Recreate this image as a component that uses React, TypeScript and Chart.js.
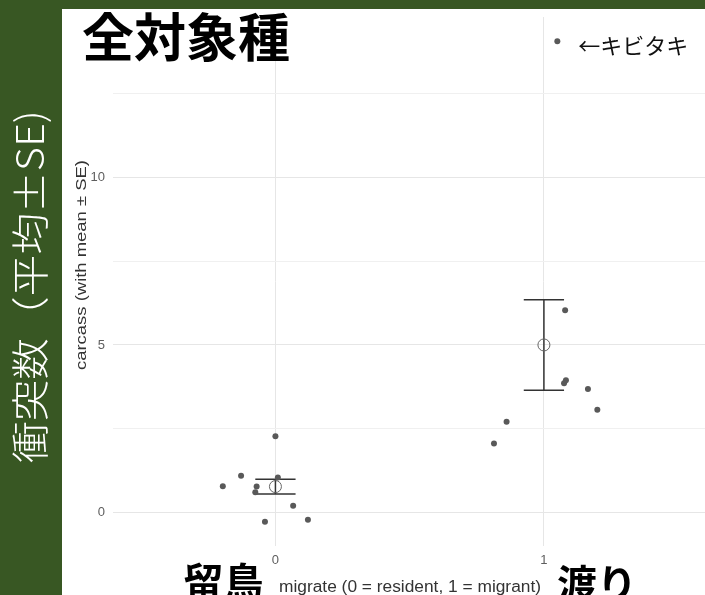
import { useEffect, useRef } from "react";
import { Chart, registerables } from "chart.js";

Chart.register(...registerables);

// Jittered observations per species group (x = migrate + jitter, y = carcass)
const residentX = [0.0, -0.128, -0.196, -0.07, -0.075, 0.009, 0.066, -0.039, 0.121];
const residentY = [2.28, 1.1, 0.79, 0.78, 0.61, 1.05, 0.21, -0.27, -0.21];
const migrantX = [1.05, 1.079, 1.082, 1.075, 1.164, 1.199, 0.861, 0.814];
const migrantY = [14.05, 6.03, 3.95, 3.86, 3.69, 3.07, 2.71, 2.06];

// Group summaries
const groupX = [0, 1];
const groupMean = [0.78, 5.0];
const groupSE = [0.22, 1.35];

// Axes
const xTicks = [0, 1];
const yGridValues = [0, 2.5, 5, 7.5, 10, 12.5];
const yTickLabels = [0, 5, 10];

// Text
const titleText = "全対象種";
const noteText = "←キビタキ";
const sideText = "衝突数（平均±SE)";
const yTitle = "carcass (with mean ± SE)";
const xTitle = "migrate (0 = resident, 1 = migrant)";
const groupNames = ["留鳥", "渡り"];

const GREEN = "#385723";
const CAP_HALF = 0.075;

function fitText(
  ctx: CanvasRenderingContext2D,
  text: string,
  cx: number,
  cy: number,
  font: string,
  targetWidth: number,
  color: string,
  rotate: boolean
) {
  ctx.save();
  ctx.font = font;
  ctx.fillStyle = color;
  ctx.textAlign = "center";
  ctx.textBaseline = "middle";
  const w = ctx.measureText(text).width;
  ctx.translate(cx, cy);
  if (rotate) ctx.rotate(-Math.PI / 2);
  ctx.scale(targetWidth / w, 1);
  ctx.fillText(text, 0, 0);
  ctx.restore();
}

const backgroundPlugin = {
  id: "panelBackground",
  beforeDraw(chart: any) {
    const { ctx, width, height } = chart;
    ctx.save();
    ctx.fillStyle = GREEN;
    ctx.fillRect(0, 0, width, height);
    ctx.fillStyle = "#ffffff";
    ctx.fillRect(62, 9, width - 62, height - 9);
    ctx.restore();
  },
};

const textPlugin = {
  id: "annotations",
  afterDraw(chart: any) {
    const { ctx } = chart;
    const xs = chart.scales.x;
    const ys = chart.scales.y;

    ctx.save();
    // Title
    ctx.font = "bold 52px 'Noto Sans CJK JP'";
    ctx.fillStyle = "#000000";
    ctx.textAlign = "left";
    ctx.textBaseline = "alphabetic";
    ctx.fillText(titleText, 82, 57);

    // Label for the outlying migrant point
    const topIdx = migrantY.indexOf(Math.max(...migrantY));
    const px = xs.getPixelForValue(migrantX[topIdx]);
    const py = ys.getPixelForValue(migrantY[topIdx]);
    ctx.font = "22px 'Noto Sans CJK JP'";
    ctx.fillStyle = "#111111";
    ctx.fillText(noteText, px + 21, py + 13);

    // Group names beside the x tick labels
    ctx.font = "bold 40px 'Noto Sans CJK JP'";
    ctx.fillStyle = "#000000";
    ctx.textAlign = "center";
    ctx.fillText(groupNames[0], xs.getPixelForValue(groupX[0]) - 52, 597);
    ctx.fillText(groupNames[1], xs.getPixelForValue(groupX[1]) + 53, 599);
    ctx.restore();

    // Axis titles
    fitText(ctx, xTitle, 410, 588, "16px 'Liberation Sans'", 262, "#333333", false);
    fitText(ctx, yTitle, 81.5, 265, "15px 'Liberation Sans'", 210, "#333333", true);

    // Side caption on the green band
    fitText(ctx, sideText, 30, 286.5, "300 38px 'Noto Sans CJK JP'", 353, "#ffffff", true);
  },
};

function buildDatasets() {
  const pointStyle = {
    pointRadius: 3,
    pointBackgroundColor: "#595959",
    pointBorderWidth: 0,
    showLine: false,
  };
  const datasets: any[] = [
    { data: residentX.map((x, i) => ({ x, y: residentY[i] })), ...pointStyle },
    { data: migrantX.map((x, i) => ({ x, y: migrantY[i] })), ...pointStyle },
    {
      data: groupX.map((x, i) => ({ x, y: groupMean[i] })),
      pointRadius: 6,
      pointBackgroundColor: "rgba(0,0,0,0)",
      pointBorderColor: "#666666",
      pointBorderWidth: 1,
      showLine: false,
    },
  ];
  const barStyle = {
    showLine: true,
    pointRadius: 0,
    borderColor: "#333333",
    borderWidth: 1.5,
    fill: false,
  };
  groupX.forEach((g, i) => {
    const lo = groupMean[i] - groupSE[i];
    const hi = groupMean[i] + groupSE[i];
    datasets.push({ data: [{ x: g, y: lo }, { x: g, y: hi }], ...barStyle });
    datasets.push({ data: [{ x: g - CAP_HALF, y: hi }, { x: g + CAP_HALF, y: hi }], ...barStyle });
    datasets.push({ data: [{ x: g - CAP_HALF, y: lo }, { x: g + CAP_HALF, y: lo }], ...barStyle });
  });
  return datasets;
}

export default function App() {
  const canvasRef = useRef<HTMLCanvasElement | null>(null);

  useEffect(() => {
    const canvas = canvasRef.current;
    if (!canvas) return;
    const tickFont = { family: "'Liberation Sans'", size: 13 };
    const chart = new Chart(canvas, {
      type: "scatter",
      data: { datasets: buildDatasets() },
      options: {
        responsive: false,
        animation: false,
        events: [],
        layout: { autoPadding: false, padding: { top: 17, left: 0, right: 0, bottom: 0 } },
        plugins: { legend: { display: false }, tooltip: { enabled: false } },
        scales: {
          x: {
            type: "linear",
            min: -0.605,
            max: 1.6,
            afterBuildTicks: (s: any) => {
              s.ticks = xTicks.map((v) => ({ value: v }));
            },
            afterFit: (s: any) => {
              s.height = 49;
            },
            grid: { color: "#e6e6e6", lineWidth: 1, drawTicks: false },
            border: { display: false },
            ticks: {
              padding: 7,
              font: tickFont,
              color: "#5e5e5e",
              maxRotation: 0,
              autoSkip: false,
              callback: (v: any) => String(v),
            },
          },
          y: {
            type: "linear",
            min: -0.99,
            max: 14.77,
            afterBuildTicks: (s: any) => {
              s.ticks = yGridValues.map((v) => ({ value: v }));
            },
            afterFit: (s: any) => {
              s.width = 113;
            },
            grid: {
              color: (c: any) =>
                yTickLabels.includes(c.tick?.value) ? "#e6e6e6" : "#f0f0f0",
              lineWidth: 1,
              drawTicks: false,
            },
            border: { display: false },
            ticks: {
              padding: 8,
              font: tickFont,
              color: "#5e5e5e",
              autoSkip: false,
              callback: (v: any) => (yTickLabels.includes(Number(v)) ? String(v) : ""),
            },
          },
        },
      },
      plugins: [backgroundPlugin, textPlugin],
    } as any);
    return () => chart.destroy();
  }, []);

  return (
    <div style={{ position: "absolute", left: 0, top: 0, width: 705, height: 595 }}>
      <canvas ref={canvasRef} width={705} height={595} style={{ display: "block" }} />
    </div>
  );
}
